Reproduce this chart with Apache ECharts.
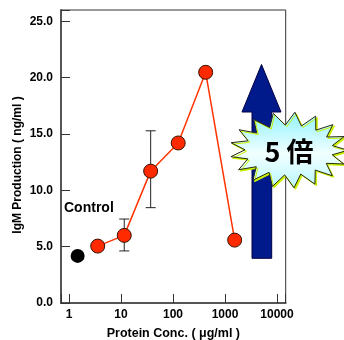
<!DOCTYPE html>
<html>
<head>
<meta charset="utf-8">
<script src="https://cdn.jsdelivr.net/npm/echarts@6/dist/echarts.min.js"></script>
<style>
html,body{margin:0;padding:0;background:#fff;}
#c{width:344px;height:340px;}
</style>
</head>
<body>
<div id="c"></div>
<script>
// ---- data ----
const concentrations = [3.57, 11.55, 37.2, 126, 425, 1535];      // µg/ml
const igmValues      = [5.05, 6.0, 11.7, 14.2, 20.47, 5.58];     // ng/ml
const errorBars      = [[11.55, 4.62, 7.45], [37.2, 8.46, 15.28]]; // [x, low, high]
const controlPoint   = [[1.467, 4.18]];
const xTickLabels    = [1, 10, 100, 1000, 10000];
const yTickLabels    = [0, 5, 10, 15, 20, 25];
const xTitle = 'Protein Conc. ( μg/ml )';
const yTitle = 'IgM Production ( ng/ml )';
const controlLabel = 'Control';
const foldLabel = '5 倍';

const FONT = '"Liberation Sans", Arial, sans-serif';
const chart = echarts.init(document.getElementById('c'), null, {renderer: 'canvas'});

// starburst outline (decoration)
function starPoints(cx, cy, rxo, ryo, rxi, ryi, n) {
  const pts = [];
  for (let i = 0; i < n * 2; i++) {
    const a = Math.PI * i / n - Math.PI / 2 + 0.1;
    const o = i % 2 === 0;
    pts.push([cx + Math.cos(a) * (o ? rxo : rxi), cy + Math.sin(a) * (o ? ryo : ryi)]);
  }
  return pts;
}

const option = {
  animation: false,
  grid: {left: 61, top: 10, right: 58.3, bottom: 37, show: true, borderColor: '#333', borderWidth: 1,
         backgroundColor: 'transparent', containLabel: false, outerBoundsMode: 'none'},
  xAxis: {
    type: 'log', logBase: 10, min: 0.702, max: 14700,
    name: xTitle, nameLocation: 'middle', nameGap: 24,
    nameTextStyle: {fontFamily: FONT, fontWeight: 'bold', fontSize: 12.5, color: '#000'},
    axisLine: {show: true, lineStyle: {color: '#555', width: 2}},
    axisTick: {inside: true, length: 9, lineStyle: {color: '#333', width: 1}},
    minorTick: {show: false},
    splitLine: {show: false},
    axisLabel: {
      margin: 6, fontFamily: FONT, fontWeight: 'bold', fontSize: 12, color: '#000',
      showMinLabel: true, showMaxLabel: true,
      formatter: function (v) {
        for (const t of xTickLabels) { if (Math.abs(v - t) / t < 1e-6) return String(t); }
        return '';
      }
    }
  },
  yAxis: {
    type: 'value', min: 0, max: 26, interval: 5,
    axisLine: {show: true, lineStyle: {color: '#555', width: 2}},
    axisTick: {inside: true, length: 9, lineStyle: {color: '#333', width: 1}},
    splitLine: {show: false},
    axisLabel: {
      margin: 8, fontFamily: FONT, fontWeight: 'bold', fontSize: 12, color: '#000',
      formatter: function (v) { return yTickLabels.indexOf(v) >= 0 ? v.toFixed(1) : ''; }
    }
  },
  series: [
    {
      type: 'custom',
      z: 1,
      data: errorBars,
      renderItem: function (params, api) {
        const x = api.value(0);
        const lo = api.coord([x, api.value(1)]);
        const hi = api.coord([x, api.value(2)]);
        const w = 5;
        const st = {stroke: '#222', lineWidth: 1};
        return {
          type: 'group',
          children: [
            {type: 'line', shape: {x1: lo[0], y1: lo[1], x2: hi[0], y2: hi[1]}, style: st},
            {type: 'line', shape: {x1: lo[0] - w, y1: lo[1], x2: lo[0] + w, y2: lo[1]}, style: st},
            {type: 'line', shape: {x1: hi[0] - w, y1: hi[1], x2: hi[0] + w, y2: hi[1]}, style: st}
          ]
        };
      }
    },
    {
      type: 'line',
      z: 3,
      data: concentrations.map((c, i) => [c, igmValues[i]]),
      symbol: 'circle', symbolSize: 14,
      lineStyle: {color: '#ff3300', width: 1.5},
      itemStyle: {color: '#ff2a00', borderColor: '#331100', borderWidth: 1}
    },
    {
      type: 'scatter',
      z: 3,
      data: controlPoint,
      symbol: 'circle', symbolSize: 14,
      itemStyle: {color: '#000', borderColor: '#000', borderWidth: 0, opacity: 1}
    }
  ],
  graphic: [
    {
      type: 'text', x: 18, y: 165, rotation: Math.PI / 2,
      style: {text: yTitle, fontFamily: FONT, fontWeight: 'bold', fontSize: 12, fill: '#000', align: 'center', verticalAlign: 'middle'}
    },
    {
      type: 'text', x: 64, y: 208,
      style: {text: controlLabel, fontFamily: FONT, fontWeight: 'bold', fontSize: 14, fill: '#000', align: 'left', verticalAlign: 'middle'}
    },
    {
      type: 'polygon', z: 10,
      shape: {points: [[261.5, 64.5], [281, 112], [271.7, 112], [271.7, 258.3], [252, 258.3], [252, 112], [242, 112]]},
      style: {fill: '#001a8c', stroke: '#000044', lineWidth: 1}
    },
    {
      type: 'polygon', z: 11,
      shape: {points: starPoints(289, 150, 59, 38, 44, 25, 17)},
      style: {
        fill: {type: 'linear', x: 0, y: 0, x2: 0, y2: 1, colorStops: [
          {offset: 0, color: '#8ef2ff'}, {offset: 0.55, color: '#f2ffff'}, {offset: 1, color: '#b8f8ff'}]},
        stroke: '#2a2a10', lineWidth: 1,
        shadowColor: '#c8f000', shadowOffsetX: 1.5, shadowOffsetY: 1.5, shadowBlur: 0
      }
    },
    {
      type: 'text', z: 12, x: 289, y: 152,
      style: {text: foldLabel, fontFamily: '"Noto Sans CJK JP", sans-serif', fontWeight: 'bold', fontSize: 27, fill: '#000', align: 'center', verticalAlign: 'middle'}
    }
  ]
};
chart.setOption(option);
</script>
</body>
</html>
